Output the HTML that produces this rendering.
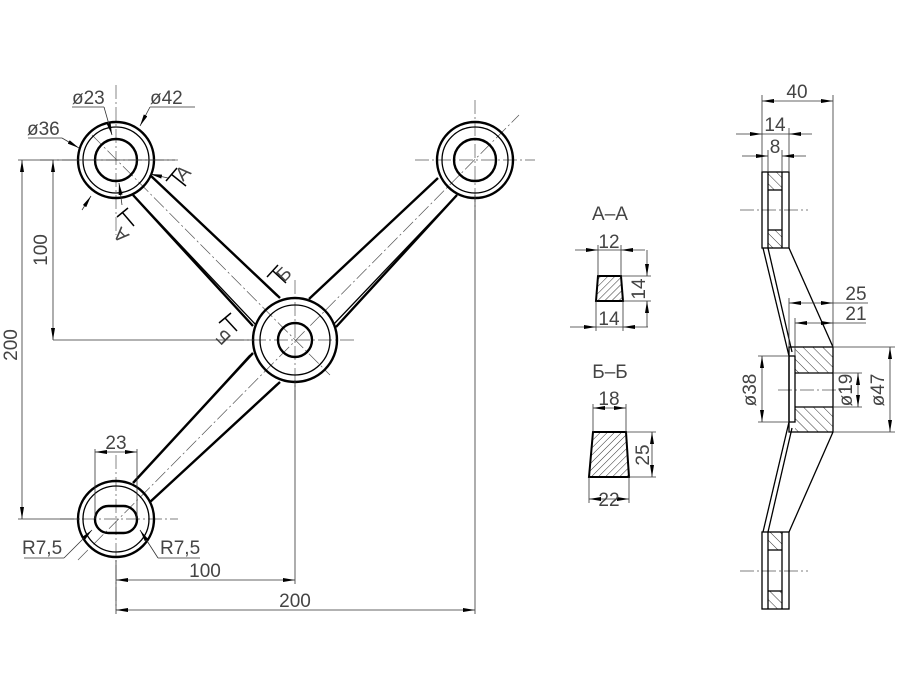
<!DOCTYPE html>
<html><head><meta charset="utf-8"><style>
html,body{margin:0;padding:0;background:#fff}
svg{display:block}
text{font-family:"Liberation Sans","DejaVu Sans",sans-serif;font-size:19px;fill:#444}
.t{stroke:#333;stroke-width:0.8;fill:none}
.c{stroke:#555;stroke-width:0.7;fill:none;stroke-dasharray:14 3 2 3}
.k{stroke:#000;stroke-width:2.4;fill:none}
.k2{stroke:#000;stroke-width:1.3;fill:none}
</style></head><body>
<svg width="900" height="700" viewBox="0 0 900 700" xmlns="http://www.w3.org/2000/svg">
<defs>
<marker id="a" viewBox="0 0 12 4" refX="12" refY="2" markerWidth="12" markerHeight="4" orient="auto-start-reverse" markerUnits="userSpaceOnUse"><path d="M0,0 L12,2 L0,4z" fill="#000"/></marker>
<pattern id="h" width="5" height="5" patternUnits="userSpaceOnUse" patternTransform="rotate(45)"><line x1="0" y1="0" x2="0" y2="5" stroke="#000" stroke-width="0.8"/></pattern>
<pattern id="h2" width="7" height="7" patternUnits="userSpaceOnUse" patternTransform="rotate(-45)"><line x1="0" y1="0" x2="0" y2="7" stroke="#000" stroke-width="0.8"/></pattern>
</defs>

<g class="c">
<line x1="116" y1="85" x2="116" y2="235"/><line x1="40" y1="160" x2="178" y2="160"/>
<line x1="116" y1="455" x2="116" y2="610"/><line x1="60" y1="519" x2="178" y2="519"/>
<line x1="295" y1="280" x2="295" y2="400"/><line x1="230" y1="340" x2="355" y2="340"/>
<line x1="475" y1="100" x2="475" y2="220"/><line x1="415" y1="160" x2="535" y2="160"/>
<line x1="78" y1="560" x2="519" y2="115"/>
<line x1="92" y1="135" x2="330" y2="375"/>
<line x1="740" y1="210" x2="808" y2="210"/><line x1="740" y1="571" x2="808" y2="571"/>
<line x1="778" y1="390" x2="845" y2="390"/>
</g>

<g class="k">
<circle cx="116" cy="160" r="38"/><circle cx="116" cy="160" r="21"/>
<circle cx="475" cy="160" r="38"/><circle cx="475" cy="160" r="21"/>
<circle cx="295" cy="340" r="42"/><circle cx="295" cy="340" r="17"/>
<circle cx="116" cy="519" r="38"/>
<rect x="95" y="506" width="42" height="27" rx="13.5"/>
</g>
<g class="k2">
<circle cx="116" cy="160" r="33"/><circle cx="475" cy="160" r="33"/>
<circle cx="295" cy="340" r="35"/><circle cx="116" cy="519" r="33"/>
</g>
<g class="k">
<path d="M150,175 L280,298"/><path d="M133,195 L253,326"/>
<path d="M438,178 L309,299"/><path d="M457,195 L336,327"/>
<path d="M253,353 L133,483"/><path d="M280,382 L150,502"/>
</g>
<g class="k2">
<path d="M153,178 L277,296"/><path d="M136,198 L256,325"/>
<path d="M435,181 L312,296"/><path d="M454,198 L333,325"/>
<path d="M250,355 L136,480"/><path d="M277,384 L153,499"/>
</g>

<g stroke="#000" stroke-width="1.5" fill="none">
<line x1="166" y1="181" x2="177" y2="168"/><line x1="171" y1="174" x2="186" y2="186"/>
<line x1="117" y1="217" x2="128" y2="208"/><line x1="122" y1="212" x2="134" y2="226"/>
<line x1="267" y1="277" x2="278" y2="265"/><line x1="273" y1="271" x2="286" y2="283"/>
<line x1="219" y1="323" x2="231" y2="313"/><line x1="225" y1="318" x2="237" y2="331"/>
</g>
<text x="183" y="182" font-size="12" transform="rotate(-45 183 182)">A</text>
<text x="130" y="235" font-size="12" transform="rotate(-135 130 235)">A</text>
<text x="284" y="283" font-size="12" transform="rotate(-45 284 283)">Б</text>
<text x="232" y="337" font-size="12" transform="rotate(-135 232 337)">Б</text>

<g class="t">
<line x1="72" y1="107" x2="104" y2="107"/><line x1="104" y1="107" x2="112" y2="135" marker-end="url(#a)"/>
<line x1="150" y1="107" x2="195" y2="107"/><line x1="150" y1="107" x2="140" y2="126" marker-end="url(#a)"/>
<line x1="28" y1="138" x2="62" y2="138"/><line x1="62" y1="138" x2="79" y2="148" marker-end="url(#a)"/>
<line x1="82" y1="210" x2="91" y2="196" marker-end="url(#a)"/>
<line x1="168" y1="178" x2="150" y2="174" marker-end="url(#a)"/>
<line x1="122" y1="205" x2="119" y2="183" marker-end="url(#a)"/>
<line x1="24" y1="558" x2="64" y2="558"/><line x1="64" y1="558" x2="92" y2="530" marker-end="url(#a)"/>
<line x1="200" y1="558" x2="158" y2="558"/><line x1="158" y1="558" x2="140" y2="530" marker-end="url(#a)"/>
</g>
<text x="72" y="104">ø23</text><text x="150" y="104">ø42</text><text x="27" y="135">ø36</text>
<text x="22" y="554">R7,5</text><text x="160" y="554">R7,5</text>

<g class="t">
<line x1="18" y1="160" x2="175" y2="160"/><line x1="18" y1="519" x2="80" y2="519"/>
<line x1="22" y1="160" x2="22" y2="519" marker-start="url(#a)" marker-end="url(#a)"/>
<line x1="53" y1="160" x2="53" y2="340" marker-start="url(#a)" marker-end="url(#a)"/>
<line x1="53" y1="340" x2="255" y2="340"/>
<line x1="116" y1="560" x2="116" y2="614"/>
<line x1="295" y1="380" x2="295" y2="584"/><line x1="475" y1="195" x2="475" y2="614"/>
<line x1="116" y1="580" x2="295" y2="580" marker-start="url(#a)" marker-end="url(#a)"/>
<line x1="116" y1="610" x2="475" y2="610" marker-start="url(#a)" marker-end="url(#a)"/>
<line x1="95" y1="449" x2="95" y2="519"/><line x1="137" y1="449" x2="137" y2="519"/>
<line x1="95" y1="452" x2="137" y2="452" marker-start="url(#a)" marker-end="url(#a)"/>
</g>
<text x="17" y="345" transform="rotate(-90 17 345)" text-anchor="middle">200</text>
<text x="47" y="250" transform="rotate(-90 47 250)" text-anchor="middle">100</text>
<text x="205" y="577" text-anchor="middle">100</text>
<text x="295" y="607" text-anchor="middle">200</text>
<text x="116" y="449" text-anchor="middle">23</text>

<text x="610" y="220" text-anchor="middle" font-size="13">A–A</text>
<path d="M598,276 L621,276 L623,301 L596,301Z" fill="url(#h)" stroke="#000" stroke-width="2"/>
<g class="t">
<line x1="598" y1="245" x2="598" y2="276"/><line x1="621" y1="245" x2="621" y2="276"/>
<line x1="575" y1="250" x2="598" y2="250" marker-end="url(#a)"/><line x1="645" y1="250" x2="621" y2="250" marker-end="url(#a)"/>
<line x1="598" y1="250" x2="621" y2="250"/>
<line x1="596" y1="301" x2="596" y2="331"/><line x1="623" y1="301" x2="623" y2="331"/>
<line x1="570" y1="327" x2="596" y2="327" marker-end="url(#a)"/><line x1="648" y1="327" x2="623" y2="327" marker-end="url(#a)"/>
<line x1="596" y1="327" x2="623" y2="327"/>
<line x1="621" y1="276" x2="651" y2="276"/><line x1="623" y1="301" x2="651" y2="301"/>
<line x1="647" y1="250" x2="647" y2="276" marker-end="url(#a)"/><line x1="647" y1="327" x2="647" y2="301" marker-end="url(#a)"/>
</g>
<text x="609" y="248" text-anchor="middle">12</text>
<text x="609" y="325" text-anchor="middle">14</text>
<text x="645" y="289" transform="rotate(-90 645 289)" text-anchor="middle">14</text>

<text x="610" y="378" text-anchor="middle" font-size="13">Б–Б</text>
<path d="M593,432 L626,432 L629,477 L589,477Z" fill="url(#h)" stroke="#000" stroke-width="2"/>
<g class="t">
<line x1="593" y1="404" x2="593" y2="432"/><line x1="626" y1="404" x2="626" y2="432"/>
<line x1="593" y1="408" x2="626" y2="408" marker-start="url(#a)" marker-end="url(#a)"/>
<line x1="589" y1="477" x2="589" y2="503"/><line x1="629" y1="477" x2="629" y2="503"/>
<line x1="589" y1="499" x2="629" y2="499" marker-start="url(#a)" marker-end="url(#a)"/>
<line x1="626" y1="432" x2="656" y2="432"/><line x1="629" y1="477" x2="656" y2="477"/>
<line x1="652" y1="432" x2="652" y2="477" marker-start="url(#a)" marker-end="url(#a)"/>
</g>
<text x="609" y="405" text-anchor="middle">18</text>
<text x="609" y="506" text-anchor="middle">22</text>
<text x="649" y="455" transform="rotate(-90 649 455)" text-anchor="middle">25</text>

<g>
<rect x="768" y="172" width="14" height="18" fill="url(#h2)"/>
<rect x="768" y="230" width="14" height="18" fill="url(#h2)"/>
<rect x="768" y="532" width="14" height="18" fill="url(#h2)"/>
<rect x="768" y="591" width="14" height="18" fill="url(#h2)"/>
<rect x="795" y="347" width="38" height="26" fill="url(#h2)"/>
<rect x="795" y="407" width="38" height="25" fill="url(#h2)"/>
</g>
<g class="k2" stroke-width="1.8">
<rect x="762" y="172" width="27" height="76"/><rect x="762" y="532" width="27" height="77"/>
<line x1="768" y1="172" x2="768" y2="248"/><line x1="782" y1="172" x2="782" y2="248"/>
<line x1="768" y1="190" x2="782" y2="190"/><line x1="768" y1="230" x2="782" y2="230"/>
<line x1="768" y1="532" x2="768" y2="609"/><line x1="782" y1="532" x2="782" y2="609"/>
<line x1="768" y1="550" x2="782" y2="550"/><line x1="768" y1="591" x2="782" y2="591"/>
<rect x="789" y="347" width="44" height="85"/>
<rect x="789" y="356" width="6" height="66"/>
<line x1="795" y1="373" x2="833" y2="373"/><line x1="795" y1="407" x2="833" y2="407"/>
<line x1="789" y1="248" x2="833" y2="347"/><line x1="833" y1="432" x2="789" y2="532"/>
<line x1="763" y1="248" x2="789" y2="356"/><line x1="768" y1="248" x2="792" y2="352"/>
<line x1="789" y1="422" x2="763" y2="532"/><line x1="792" y1="428" x2="768" y2="532"/>
</g>
<g class="t">
<line x1="762" y1="95" x2="762" y2="172"/><line x1="833" y1="95" x2="833" y2="347"/>
<line x1="762" y1="101" x2="833" y2="101" marker-start="url(#a)" marker-end="url(#a)"/>
<line x1="789" y1="128" x2="789" y2="172"/>
<line x1="736" y1="134" x2="762" y2="134" marker-end="url(#a)"/><line x1="812" y1="134" x2="789" y2="134" marker-end="url(#a)"/>
<line x1="762" y1="134" x2="789" y2="134"/>
<line x1="768" y1="150" x2="768" y2="172"/><line x1="782" y1="150" x2="782" y2="172"/>
<line x1="742" y1="156" x2="768" y2="156" marker-end="url(#a)"/><line x1="806" y1="156" x2="782" y2="156" marker-end="url(#a)"/>
<line x1="789" y1="298" x2="789" y2="347"/>
<line x1="789" y1="303" x2="833" y2="303" marker-start="url(#a)" marker-end="url(#a)"/><line x1="833" y1="303" x2="868" y2="303"/>
<line x1="795" y1="318" x2="795" y2="356"/>
<line x1="795" y1="323" x2="833" y2="323" marker-start="url(#a)" marker-end="url(#a)"/><line x1="833" y1="323" x2="866" y2="323"/>
<line x1="833" y1="347" x2="895" y2="347"/><line x1="833" y1="432" x2="895" y2="432"/>
<line x1="890" y1="347" x2="890" y2="432" marker-start="url(#a)" marker-end="url(#a)"/>
<line x1="758" y1="356" x2="789" y2="356"/><line x1="758" y1="422" x2="789" y2="422"/>
<line x1="762" y1="356" x2="762" y2="422" marker-start="url(#a)" marker-end="url(#a)"/>
<line x1="833" y1="373" x2="862" y2="373"/><line x1="833" y1="407" x2="862" y2="407"/>
<line x1="858" y1="373" x2="858" y2="407" marker-start="url(#a)" marker-end="url(#a)"/>
</g>
<text x="797" y="98" text-anchor="middle">40</text>
<text x="775" y="131" text-anchor="middle">14</text>
<text x="775" y="153" text-anchor="middle">8</text>
<text x="856" y="300" text-anchor="middle">25</text>
<text x="856" y="320" text-anchor="middle">21</text>
<text x="884" y="390" transform="rotate(-90 884 390)" text-anchor="middle">ø47</text>
<text x="756" y="390" transform="rotate(-90 756 390)" text-anchor="middle">ø38</text>
<text x="852" y="390" transform="rotate(-90 852 390)" text-anchor="middle">ø19</text>
</svg>
</body></html>
